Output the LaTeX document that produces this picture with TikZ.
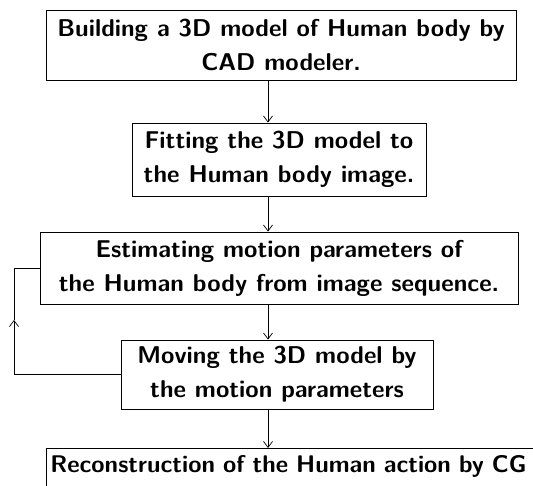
\documentclass[tikz,border=0pt]{standalone}
\usetikzlibrary{arrows.meta}
\begin{document}
\begin{tikzpicture}[x=1pt,y=-1pt,
  box/.style={draw, line width=0.9pt, align=center, inner sep=0pt,
    font=\fontsize{24.3}{34}\selectfont\sffamily\bfseries},
  conn/.style={line width=0.7pt},
  arr/.style={conn, -{Straight Barb[length=6pt,width=9pt]}}]
\useasboundingbox (0,0) rectangle (533,486);
\clip (0,0) rectangle (533,486);
\node[box, minimum width=470pt, minimum height=70pt] (b1) at (281,45)
  {Building a 3D model of Human body by\\CAD modeler.};
\node[box, minimum width=294pt, minimum height=73pt] (b2) at (279,159.5)
  {Fitting the 3D model to\\the Human body image.};
\node[box, minimum width=478pt, minimum height=72pt] (b3) at (279,268)
  {Estimating motion parameters of\\the Human body from image sequence.};
\node[box, minimum width=312pt, minimum height=69pt] (b4) at (277,374.5)
  {Moving the 3D model by\\the motion parameters};
\node[box, anchor=north west, align=left, text width=492pt, inner xsep=4pt,
  inner ysep=6pt, text height=18pt, text depth=30pt,
  font=\fontsize{24.1}{34}\selectfont\sffamily\bfseries] (b5) at (46,448)
  {Reconstruction of the Human action by CG};
\coordinate (ax) at (268,0);
\coordinate (lx) at (14,0);
\coordinate (lm) at (14,320);
\draw[arr] (b1.south -| ax) -- (b2.north -| ax);
\draw[arr] (b2.south -| ax) -- (b3.north -| ax);
\draw[arr] (b3.south -| ax) -- (b4.north -| ax);
\draw[arr] (b4.south -| ax) -- (b5.north -| ax);
\draw[arr] (b4.west) -| (lm);
\draw[conn] (lm) |- (b3.west);
\end{tikzpicture}
\end{document}
